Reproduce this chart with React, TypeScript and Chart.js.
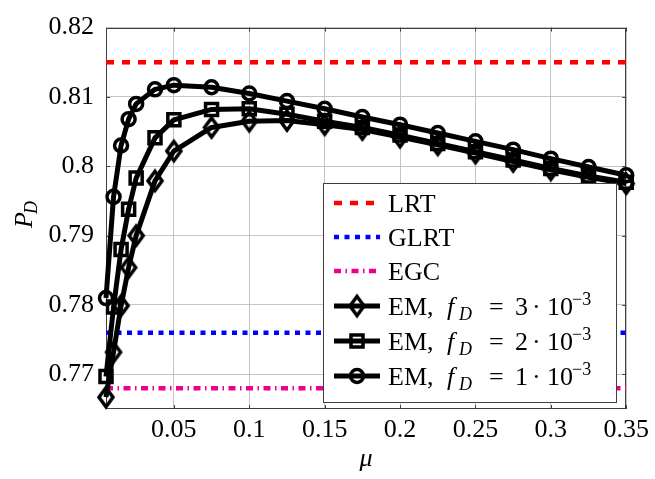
import React, { useEffect, useRef } from 'react';
import { Chart, registerables } from 'chart.js';

Chart.register(...registerables);

// ---------- data ----------
const muValues = [0.005, 0.01, 0.015, 0.02, 0.025, 0.0375, 0.05, 0.075, 0.1, 0.125, 0.15, 0.175, 0.2, 0.225, 0.25, 0.275, 0.3, 0.325, 0.35];
const emFd3 = [0.7667, 0.7732, 0.7799, 0.7854, 0.79, 0.7979, 0.8022, 0.8056, 0.8065, 0.8066, 0.806, 0.8053, 0.8042, 0.8031, 0.8019, 0.8007, 0.7995, 0.7984, 0.7975];
const emFd2 = [0.7697, 0.7797, 0.788, 0.7938, 0.7983, 0.8041, 0.8067, 0.8082, 0.8083, 0.8075, 0.8065, 0.8056, 0.8045, 0.8033, 0.8021, 0.8009, 0.7997, 0.7986, 0.7977];
const emFd1 = [0.781, 0.7956, 0.803, 0.8068, 0.809, 0.8111, 0.8117, 0.8114, 0.8105, 0.8094, 0.8083, 0.8071, 0.806, 0.8048, 0.8036, 0.8024, 0.8011, 0.7999, 0.7987];
const lrtValue = 0.815;
const glrtValue = 0.776;
const egcValue = 0.768;
const xRange = [0.005, 0.35];
const yRange = [0.765, 0.82];
const xTicks = [0.05, 0.1, 0.15, 0.2, 0.25, 0.3, 0.35];
const yTicks = [0.77, 0.78, 0.79, 0.8, 0.81, 0.82];

const FONT = '"Liberation Serif", "Times New Roman", serif';
const RED = '#ff0000';
const BLUE = '#0000ff';
const MAGENTA = '#ec008c';
const LRT_DASH = [8, 8];
const GLRT_DASH = [5, 5.5];
const EGC_DASH = [7, 4.5, 1.5, 4.5];
const REF_LW = 4.5;
const EM_LW = 5;
const MARK_LW = 3.5;
const CIRCLE_R = 6.5;
const SQUARE_R = 8.5;

function makeDiamond(halfW: number, halfH: number, lw: number): HTMLCanvasElement {
  const pad = 5;
  const c = document.createElement('canvas');
  c.width = Math.round(2 * halfW + 2 * pad);
  c.height = Math.round(2 * halfH + 2 * pad);
  const ctx = c.getContext('2d')!;
  const cx = c.width / 2, cy = c.height / 2;
  ctx.lineWidth = lw;
  ctx.strokeStyle = '#000';
  ctx.lineJoin = 'miter';
  ctx.beginPath();
  ctx.moveTo(cx, cy - halfH);
  ctx.lineTo(cx + halfW, cy);
  ctx.lineTo(cx, cy + halfH);
  ctx.lineTo(cx - halfW, cy);
  ctx.closePath();
  ctx.stroke();
  return c;
}

type Seg = { t: string; x: number; it?: boolean; sub?: boolean; sup?: boolean };

function drawRich(ctx: CanvasRenderingContext2D, segs: Seg[], y: number) {
  for (const s of segs) {
    const small = s.sub || s.sup;
    ctx.font = `${s.it ? 'italic ' : ''}${small ? 18 : 26}px ${FONT}`;
    const dy = s.sub ? 5 : s.sup ? -10 : 0;
    ctx.fillText(s.t, s.x, y + dy);
  }
}

function emLabel(k: string): Seg[] {
  return [
    { t: 'EM,', x: 388 },
    { t: 'f', x: 447, it: true },
    { t: 'D', x: 459, it: true, sub: true },
    { t: '=', x: 489 },
    { t: k, x: 515 },
    { t: '·', x: 532 },
    { t: '10', x: 547 },
    { t: '−3', x: 572, sup: true },
  ];
}

function drawMarker(ctx: CanvasRenderingContext2D, kind: string, x: number, y: number, diamond: HTMLCanvasElement) {
  ctx.save();
  ctx.strokeStyle = '#000';
  ctx.lineWidth = MARK_LW;
  if (kind === 'circle') {
    ctx.beginPath();
    ctx.arc(x, y, CIRCLE_R, 0, Math.PI * 2);
    ctx.stroke();
  } else if (kind === 'rect') {
    const h = SQUARE_R * Math.SQRT1_2;
    ctx.strokeRect(x - h, y - h, 2 * h, 2 * h);
  } else if (kind === 'diamond') {
    ctx.drawImage(diamond, x - diamond.width / 2, y - diamond.height / 2);
  }
  ctx.restore();
}

export default function App() {
  const ref = useRef<HTMLCanvasElement>(null);

  useEffect(() => {
    const diamond = makeDiamond(7, 9.5, MARK_LW);

    const refLine = (label: string, value: number, color: string, dash: number[], order: number) => ({
      label,
      data: [{ x: xRange[0], y: value }, { x: xRange[1], y: value }],
      borderColor: color,
      borderWidth: REF_LW,
      borderDash: dash,
      borderCapStyle: 'butt' as const,
      pointRadius: 0,
      order,
    });

    const emLine = (label: string, values: number[], style: any, radius: number, order: number) => ({
      label,
      data: muValues.map((x, i) => ({ x, y: values[i] })),
      borderColor: '#000',
      borderWidth: EM_LW,
      borderJoinStyle: 'round' as const,
      pointStyle: style,
      pointRadius: radius,
      pointBorderWidth: MARK_LW,
      pointBorderColor: '#000',
      pointBackgroundColor: 'rgba(0,0,0,0)',
      tension: 0,
      clip: false as any,
      order,
    });

    const legendRows: { kind: string; color?: string; dash?: number[]; marker?: string; label: Seg[]; y: number }[] = [
      { kind: 'ref', color: RED, dash: LRT_DASH, label: [{ t: 'LRT', x: 388 }], y: 203 },
      { kind: 'ref', color: BLUE, dash: GLRT_DASH, label: [{ t: 'GLRT', x: 388 }], y: 237 },
      { kind: 'ref', color: MAGENTA, dash: EGC_DASH, label: [{ t: 'EGC', x: 388 }], y: 271 },
      { kind: 'em', marker: 'diamond', label: emLabel('3'), y: 306 },
      { kind: 'em', marker: 'rect', label: emLabel('2'), y: 341 },
      { kind: 'em', marker: 'circle', label: emLabel('1'), y: 376 },
    ];

    const framePlugin = {
      id: 'frame',
      beforeDatasetsDraw(chart: any) {
        const { ctx, chartArea } = chart;
        const { left, right, top, bottom } = chartArea;
        const xs = chart.scales.x, ys = chart.scales.y;
        ctx.save();
        ctx.strokeStyle = '#404040';
        ctx.lineWidth = 1;
        ctx.beginPath();
        for (const v of xTicks) {
          const px = Math.round(xs.getPixelForValue(v)) + 0.5;
          ctx.moveTo(px, bottom); ctx.lineTo(px, bottom - 4);
          ctx.moveTo(px, top); ctx.lineTo(px, top + 4);
        }
        for (const v of yTicks) {
          const py = Math.round(ys.getPixelForValue(v)) + 0.5;
          ctx.moveTo(left, py); ctx.lineTo(left + 4, py);
          ctx.moveTo(right, py); ctx.lineTo(right - 4, py);
        }
        ctx.stroke();
        ctx.strokeRect(Math.round(left) + 0.5, Math.round(top) + 0.5, Math.round(right - left) - 1, Math.round(bottom - top) - 1);
        ctx.restore();
      },
      afterDraw(chart: any) {
        const { ctx, chartArea } = chart;
        ctx.save();
        // axis titles
        ctx.fillStyle = '#000';
        ctx.textBaseline = 'alphabetic';
        ctx.textAlign = 'center';
        ctx.font = `italic 26px ${FONT}`;
        ctx.fillText('μ', (chartArea.left + chartArea.right) / 2, 466);
        ctx.save();
        ctx.translate(32, 228);
        ctx.rotate(-Math.PI / 2);
        ctx.textAlign = 'left';
        ctx.font = `italic 26px ${FONT}`;
        ctx.fillText('P', 0, 0);
        const pw = ctx.measureText('P').width;
        ctx.font = `italic 18px ${FONT}`;
        ctx.fillText('D', pw - 2, 5);
        ctx.restore();

        // legend
        const bx = 323.5, by = 183.5, bw = 293, bh = 219;
        ctx.fillStyle = '#fff';
        ctx.fillRect(bx, by, bw, bh);
        ctx.strokeStyle = '#404040';
        ctx.lineWidth = 1;
        ctx.strokeRect(bx, by, bw, bh);
        for (const r of legendRows) {
          ctx.save();
          ctx.beginPath();
          ctx.moveTo(334, r.y);
          ctx.lineTo(380, r.y);
          if (r.kind === 'ref') {
            ctx.strokeStyle = r.color!;
            ctx.lineWidth = REF_LW;
            ctx.setLineDash(r.dash!);
          } else {
            ctx.strokeStyle = '#000';
            ctx.lineWidth = EM_LW;
          }
          ctx.stroke();
          ctx.restore();
          if (r.kind === 'em') drawMarker(ctx, r.marker!, 357, r.y, diamond);
          ctx.fillStyle = '#000';
          ctx.textAlign = 'left';
          ctx.textBaseline = 'alphabetic';
          drawRich(ctx, r.label, r.y + 9);
        }
        ctx.restore();
      },
    };

    const chart = new Chart(ref.current!, {
      type: 'line',
      data: {
        datasets: [
          refLine('LRT', lrtValue, RED, LRT_DASH, 6),
          refLine('GLRT', glrtValue, BLUE, GLRT_DASH, 5),
          refLine('EGC', egcValue, MAGENTA, EGC_DASH, 4),
          emLine('EM, fD = 3·10^-3', emFd3, diamond, 9, 3),
          emLine('EM, fD = 2·10^-3', emFd2, 'rect', SQUARE_R, 2),
          emLine('EM, fD = 1·10^-3', emFd1, 'circle', CIRCLE_R, 1),
        ] as any,
      },
      options: {
        responsive: false,
        animation: false,
        events: [],
        layout: { padding: { left: 0, top: 12, right: 23, bottom: 0 } },
        plugins: { legend: { display: false }, tooltip: { enabled: false } },
        scales: {
          x: {
            type: 'linear',
            min: xRange[0],
            max: xRange[1],
            afterBuildTicks: (s: any) => { s.ticks = xTicks.map((v) => ({ value: v })); },
            afterFit: (s: any) => { s.height = 70; },
            grid: { color: '#c4c4c4', lineWidth: 1, drawTicks: false },
            border: { display: false },
            ticks: {
              color: '#000',
              padding: 6,
              maxRotation: 0,
              autoSkip: false,
              font: { family: FONT, size: 26 },
              callback: (v: any) => String(+Number(v).toFixed(3)),
            },
          },
          y: {
            type: 'linear',
            min: yRange[0],
            max: yRange[1],
            afterBuildTicks: (s: any) => { s.ticks = yTicks.map((v) => ({ value: v })); },
            afterFit: (s: any) => { s.width = 106; },
            grid: { color: '#c4c4c4', lineWidth: 1, drawTicks: false },
            border: { display: false },
            ticks: {
              color: '#000',
              padding: 12,
              autoSkip: false,
              font: { family: FONT, size: 26 },
              callback: (v: any) => String(+Number(v).toFixed(3)),
            },
          },
        },
      },
      plugins: [framePlugin],
    });
    return () => chart.destroy();
  }, []);

  return (
    <div style={{ position: 'fixed', left: 0, top: 0, width: 655, height: 479, background: '#fff' }}>
      <canvas ref={ref} width={655} height={479} style={{ display: 'block' }} />
    </div>
  );
}
